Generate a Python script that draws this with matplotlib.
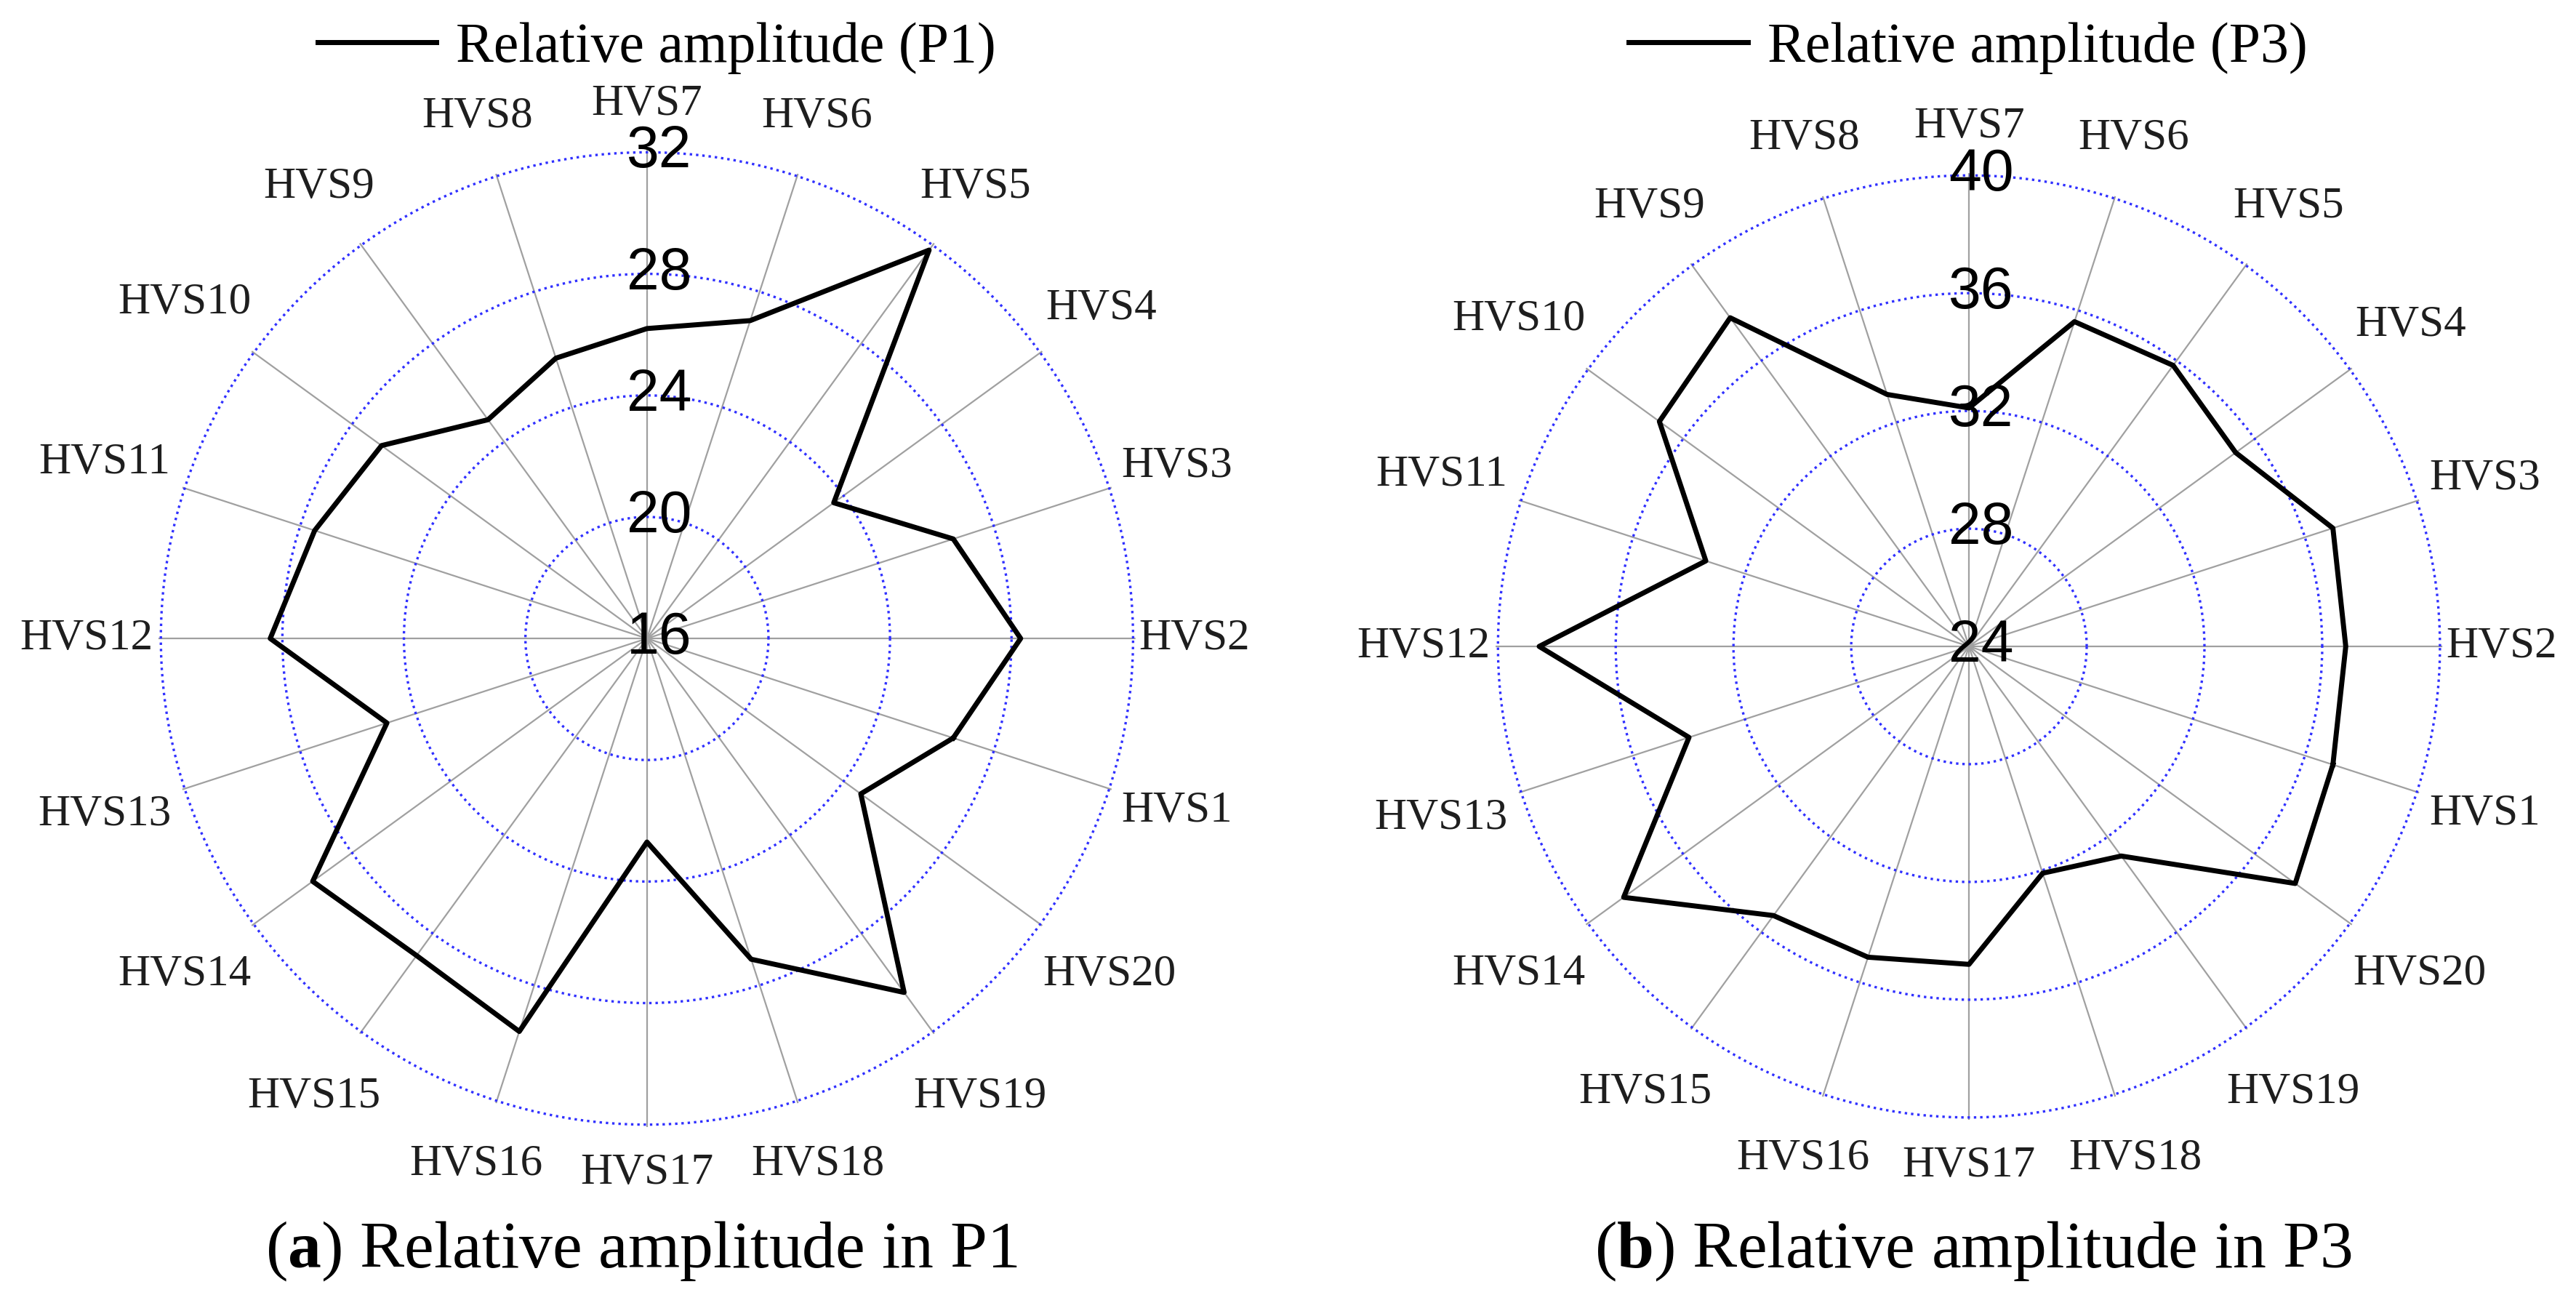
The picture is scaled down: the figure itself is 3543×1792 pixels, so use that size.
import numpy as np
import matplotlib
matplotlib.use('Agg')
import matplotlib.pyplot as plt

plt.rcParams['mathtext.fontset'] = 'custom'
plt.rcParams['mathtext.rm'] = 'Liberation Serif'
plt.rcParams['mathtext.bf'] = 'Liberation Serif:bold'

labels = ['HVS1', 'HVS2', 'HVS3', 'HVS4', 'HVS5', 'HVS6', 'HVS7', 'HVS8', 'HVS9', 'HVS10',
          'HVS11', 'HVS12', 'HVS13', 'HVS14', 'HVS15', 'HVS16', 'HVS17', 'HVS18', 'HVS19', 'HVS20']
p1 = [26.6, 28.3, 26.6, 23.6, 31.8, 27.0, 26.2, 25.7, 24.9, 26.8,
      27.5, 28.4, 25.0, 29.6, 28.9, 29.6, 22.7, 27.1, 30.4, 24.7]
p3 = [37.0, 36.8, 37.0, 35.2, 35.8, 35.6, 32.1, 33.0, 37.8, 37.0,
      33.4, 38.6, 34.0, 38.5, 35.3, 35.1, 34.8, 32.1, 32.8, 37.7]
ticks_p1 = [16, 20, 24, 28, 32]
ticks_p3 = [24, 28, 32, 36, 40]

fig = plt.figure(figsize=(17.715, 8.96), dpi=200)

# HVS2 sits at 0 deg, counter-clockwise 18 deg per channel, HVS1 at 342 deg
angles = np.deg2rad(np.mod((np.arange(1, 21) - 2) * 18.0, 360))


def radar(rect, values, ticks, legend_text, legend_x, caption, caption_x):
    ax = fig.add_axes(rect, projection='polar')
    ax.set_xticks(angles)
    ax.set_xticklabels([])
    ax.set_xlim(0, 2 * np.pi)
    ax.set_ylim(ticks[0], ticks[-1] + 0.08)
    ax.set_yticks(ticks)
    ax.set_yticklabels([])
    ax.spines['polar'].set_visible(False)
    ax.xaxis.grid(True, color='#a0a0a0', linewidth=0.8, linestyle='-')
    ax.yaxis.grid(True, color='#3030ff', linewidth=1.2, linestyle=(0, (1, 1.6)))

    th = np.append(angles, angles[0])
    r = np.append(values, values[0])
    line, = ax.plot(th, r, color='black', linewidth=2.5, label=legend_text, zorder=5)

    # radial tick values along the HVS7 spoke
    for t in ticks:
        ax.annotate(str(t), xy=(np.pi / 2, t), xytext=(6, 0), textcoords='offset points',
                    ha='center', va='center', fontsize=29, family='Liberation Sans',
                    color='black', zorder=6)

    # channel names outside the outer ring
    fs = 22
    for a, lab in zip(angles, labels):
        w = 0.6 * fs * len(lab)
        c, s = np.cos(a), np.sin(a)
        d = 4 + abs(c) * w / 2 + abs(s) * 20
        ax.annotate(lab, xy=(a, ticks[-1]), xytext=(c * d, s * d), textcoords='offset points',
                    ha='center', va='center', fontsize=fs, family='Liberation Serif',
                    color='#1e1e1e', annotation_clip=False)

    fig.legend(handles=[line], loc='center', bbox_to_anchor=(legend_x, 0.963),
               frameon=False, prop={'family': 'Liberation Serif', 'size': 28},
               handlelength=2.1, handletextpad=0.35)
    fig.text(caption_x, 0.04, caption, ha='center', va='center', fontsize=33,
             family='Liberation Serif')
    return ax


radar([0.0615, 0.135, 0.3793, 0.75], p1, ticks_p1, 'Relative amplitude (P1)', 0.255,
      r'($\mathbf{a}$) Relative amplitude in P1', 0.249)
radar([0.5806, 0.1406, 0.3675, 0.7266], p3, ticks_p3, 'Relative amplitude (P3)', 0.764,
      r'($\mathbf{b}$) Relative amplitude in P3', 0.766)

fig.savefig('out.png', dpi=200, facecolor='white')
